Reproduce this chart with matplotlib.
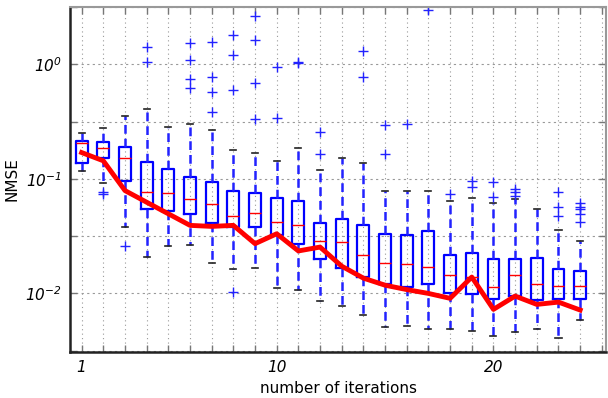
import numpy as np
import matplotlib
matplotlib.use("Agg")
import matplotlib.pyplot as plt

plt.rcParams["mathtext.fontset"] = "custom"
plt.rcParams["mathtext.rm"] = "DejaVu Sans:italic"
plt.rcParams["mathtext.it"] = "DejaVu Sans:italic"
plt.rcParams["mathtext.default"] = "rm"

# values (NMSE, log scale)
iters = np.arange(1, 25)
whis_hi = [0.251, 0.281, 0.357, 0.409, 0.285, 0.301, 0.267, 0.179, 0.168, 0.143, 0.188, 0.120,
           0.152, 0.138, 0.078, 0.078, 0.078, 0.0648, 0.0678, 0.0618, 0.0670, 0.0548, 0.0360, 0.0287]
q3 = [0.215, 0.212, 0.190, 0.141, 0.122, 0.104, 0.0942, 0.0791, 0.0760, 0.0684, 0.0648, 0.0411,
      0.0445, 0.0398, 0.0328, 0.0326, 0.0350, 0.0215, 0.0227, 0.0200, 0.0200, 0.0204, 0.0164, 0.0157]
med = [0.206, 0.188, 0.152, 0.0764, 0.0755, 0.0670, 0.0601, 0.0473, 0.0506, 0.0417, 0.0393, 0.0287,
       0.0279, 0.0215, 0.0185, 0.0181, 0.0170, 0.0146, 0.0138, 0.0114, 0.0145, 0.0120, 0.0116, 0.0116]
q1 = [0.138, 0.152, 0.0967, 0.0541, 0.0520, 0.0496, 0.0411, 0.0379, 0.0379, 0.0326, 0.0268, 0.0198,
      0.0167, 0.0139, 0.0122, 0.0113, 0.0120, 0.0100, 0.00986, 0.00887, 0.00948, 0.00875, 0.00887, 0.00892]
whis_lo = [0.117, 0.0923, 0.0379, 0.0206, 0.0259, 0.0265, 0.0183, 0.0163, 0.0168, 0.0112, 0.0107, 0.00852,
           0.0078, 0.00648, 0.00506, 0.0052, 0.00492, 0.00492, 0.00473, 0.00425, 0.00464, 0.00486, 0.00411, 0.00586]
outliers = [
    [],
    [0.0776, 0.0745],
    [0.0259],
    [1.42, 1.05],
    [],
    [1.54, 1.10, 0.741, 0.626],
    [1.56, 0.776, 0.578, 0.387],
    [1.79, 1.20, 0.601, 0.0103],
    [2.63, 1.62, 0.684, 0.336],
    [0.948, 0.343],
    [1.05, 1.02],
    [0.259, 0.165],
    [],
    [1.32, 0.771],
    [0.295, 0.166],
    [0.303],
    [2.97],
    [0.0745],
    [0.0967, 0.0857],
    [0.0934, 0.0692],
    [0.0818, 0.0764, 0.0716],
    [],
    [0.0764, 0.0574, 0.0473],
    [0.0614, 0.0574, 0.0548, 0.0496, 0.0420],
]
mean_nmse = [0.170, 0.144, 0.0791, 0.0626, 0.0496, 0.0393, 0.0385, 0.0393, 0.0272, 0.0332, 0.0235, 0.0254,
             0.0173, 0.0136, 0.0118, 0.0108, 0.0100, 0.00906, 0.0139, 0.00726, 0.00948, 0.00802, 0.00840, 0.00716]

stats = []
for i in range(len(iters)):
    stats.append(dict(whislo=whis_lo[i], q1=q1[i], med=med[i], q3=q3[i],
                      whishi=whis_hi[i], fliers=outliers[i]))

fig = plt.figure(figsize=(6.08, 3.98), dpi=100)
ax = fig.add_axes([0.115, 0.116, 0.882, 0.866])
ax.set_yscale("log")

ax.bxp(stats, positions=iters, widths=0.55, capwidths=0.28,
       boxprops=dict(color="#0000ff", linewidth=1.6),
       whiskerprops=dict(color="#2222ff", linewidth=1.8, linestyle=(0, (3.5, 2))),
       capprops=dict(color="#222222", linewidth=1.2),
       medianprops=dict(color="red", linewidth=1.0),
       flierprops=dict(marker="+", markeredgecolor="#2222ff", markersize=7, markeredgewidth=1.0))

ax.plot(iters, mean_nmse, color="red", linewidth=3.5, zorder=5)

ax.set_xlim(0.46, 25.2)
ax.set_ylim(10 ** -2.51, 10 ** 0.49)

ax.set_xticks(np.arange(1, 26))
ax.set_xticklabels([str(k) if k in (1, 10, 20) else "" for k in range(1, 26)],
                   fontstyle="italic", fontsize=11)
yt = [10 ** e for e in (-2.5, -2, -1.5, -1, -0.5, 0, 0.5)]
ax.set_yticks(yt)
ax.set_yticklabels(["", r"$10^{-2}$", "", r"$10^{-1}$", "", r"$10^{0}$", ""], fontsize=11)
ax.minorticks_off()
ax.tick_params(axis="both", direction="in", length=5, width=1.0, color="#777777",
               top=True, right=True, pad=6)

ax.xaxis.grid(True, linestyle=(0, (1, 3)), color="#999999", linewidth=0.8)
ax.yaxis.grid(True, linestyle=(0, (2, 3)), color="#999999", linewidth=0.8)
ax.set_axisbelow(True)

for s in ("left", "bottom"):
    ax.spines[s].set_linewidth(1.8)
    ax.spines[s].set_color("#222222")
for s in ("top", "right"):
    ax.spines[s].set_linewidth(1.5)
    ax.spines[s].set_color("#999999")

ax.set_xlabel("number of iterations", fontsize=11)
ax.set_ylabel("NMSE", fontsize=11)

fig.savefig("out.png", dpi=100)
